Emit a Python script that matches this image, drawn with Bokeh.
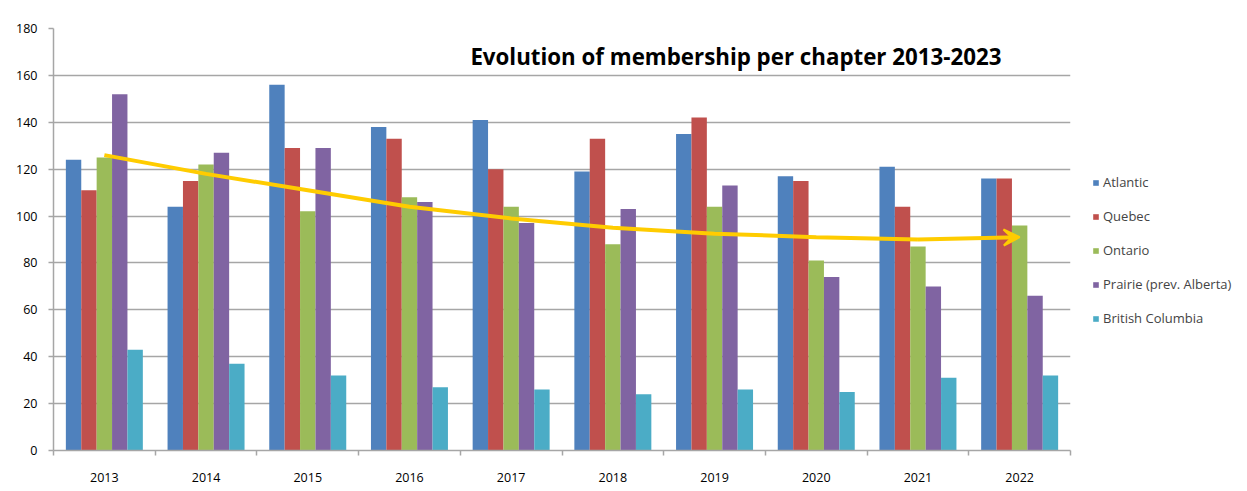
from bokeh.plotting import figure
from bokeh.models import (ColumnDataSource, Legend, LegendItem, Label, Arrow,
                          VeeHead, FixedTicker, Range1d)
from bokeh.embed import file_html
from bokeh.resources import INLINE

# ---- data ----
years = ["2013", "2014", "2015", "2016", "2017", "2018", "2019", "2020", "2021", "2022"]
atlantic = [124, 104, 156, 138, 141, 119, 135, 117, 121, 116]
quebec = [111, 115, 129, 133, 120, 133, 142, 115, 104, 116]
ontario = [125, 122, 102, 108, 104, 88, 104, 81, 87, 96]
prairie = [152, 127, 129, 106, 97, 103, 113, 74, 70, 66]
british_columbia = [43, 37, 32, 27, 26, 24, 26, 25, 31, 32]
trend = [126, 118, 111, 104, 99, 95, 92.5, 91, 90, 91]
series_names = ["Atlantic", "Quebec", "Ontario", "Prairie (prev. Alberta)", "British Columbia"]
y_ticks = [0, 20, 40, 60, 80, 100, 120, 140, 160, 180]
title_text = "Evolution of membership per chapter 2013-2023"

colors = ["#4F81BD", "#C0504D", "#9BBB59", "#8064A2", "#4BACC6"]
series_values = [atlantic, quebec, ontario, prairie, british_columbia]
FONT = "Open Sans"
GRID = "#A6A6A6"
YELLOW = "#FFCC00"

n = len(years)
centers = [i + 0.5 for i in range(n)]

p = figure(frame_width=1017, frame_height=422, output_backend="svg", toolbar_location=None,
           x_range=Range1d(0, n), y_range=Range1d(0, 180),
           min_border_left=53, min_border_right=0, min_border_top=28,
           min_border_bottom=33)
p.outline_line_color = None
p.background_fill_color = "white"
p.border_fill_color = "white"

bar_w = 0.1514
items = []
for k, (name, vals, col) in enumerate(zip(series_names, series_values, colors)):
    src = ColumnDataSource(dict(x=[c + (k - 2) * bar_w for c in centers], top=vals))
    r = p.vbar(x="x", top="top", bottom=0, width=bar_w, source=src,
               fill_color=col, line_color=None)
    items.append(LegendItem(label=name, renderers=[r]))

# trend line with arrow
p.line(x=centers[:-1], y=trend[:-1], line_color=YELLOW, line_width=4)
p.add_layout(Arrow(end=VeeHead(size=16, fill_color=YELLOW, line_color=YELLOW, line_width=2),
                   x_start=centers[-2], y_start=trend[-2],
                   x_end=centers[-1], y_end=trend[-1],
                   line_color=YELLOW, line_width=4))

# axes
p.xgrid.visible = False
p.ygrid.grid_line_color = GRID
p.ygrid.grid_line_width = 1.5
p.yaxis.ticker = FixedTicker(ticks=y_ticks)
p.xaxis.ticker = FixedTicker(ticks=centers, minor_ticks=list(range(n + 1)))
p.xaxis.major_label_overrides = {c: y for c, y in zip(centers, years)}

for ax in (p.xaxis[0], p.yaxis[0]):
    ax.axis_line_color = GRID
    ax.axis_line_width = 1.5
    ax.major_tick_line_color = GRID
    ax.minor_tick_line_color = GRID
    ax.major_tick_line_width = 1.5
    ax.minor_tick_line_width = 1.5
    ax.major_label_text_font = FONT
    ax.major_label_text_font_size = "12.5px"
    ax.major_label_text_color = "#000000"

p.yaxis.major_tick_out = 5
p.yaxis.major_tick_in = 0
p.yaxis.minor_tick_out = 0
p.yaxis.minor_tick_in = 0
p.yaxis.major_label_standoff = 11

p.xaxis.major_tick_out = 0
p.xaxis.major_tick_in = 0
p.xaxis.minor_tick_out = 5
p.xaxis.minor_tick_in = 0
p.xaxis.major_label_standoff = 17

# title inside the plot area
p.add_layout(Label(x=6.71, y=168, text=title_text, text_align="center",
                   text_baseline="middle", text_font=FONT,
                   text_font_size="22.3px", text_font_style="bold",
                   text_color="#000000"))

legend = Legend(items=items, location=(22, 123), orientation="vertical",
                glyph_width=7, glyph_height=7, label_height=14, spacing=16,
                padding=0, margin=0, border_line_color=None,
                background_fill_alpha=0, label_text_font=FONT,
                label_text_font_size="13px", label_standoff=4)
p.add_layout(legend, "right")

open("out.html", "w").write(file_html(p, INLINE))
